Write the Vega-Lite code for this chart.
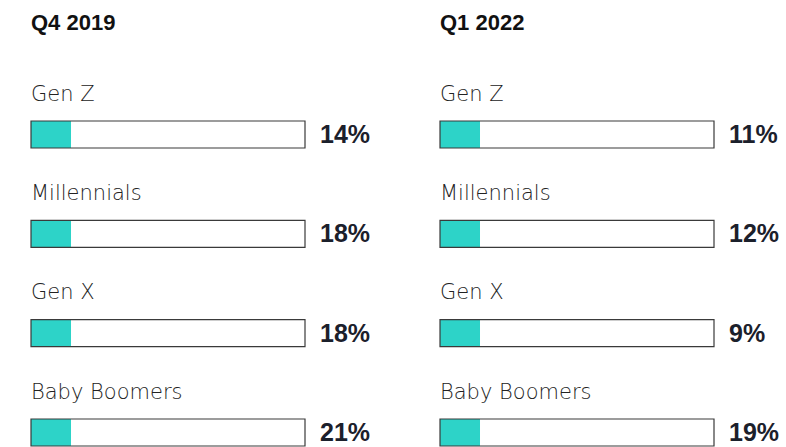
{
  "$schema": "https://vega.github.io/schema/vega-lite/v6.json",
  "padding": {"left": 30, "top": 12, "right": 0, "bottom": 0},
  "background": "white",
  "data": {"values": [
    {"period": "Q4 2019", "gen": "Gen Z", "share": 0.14},
    {"period": "Q4 2019", "gen": "Millennials", "share": 0.18},
    {"period": "Q4 2019", "gen": "Gen X", "share": 0.18},
    {"period": "Q4 2019", "gen": "Baby Boomers", "share": 0.21},
    {"period": "Q1 2022", "gen": "Gen Z", "share": 0.11},
    {"period": "Q1 2022", "gen": "Millennials", "share": 0.12},
    {"period": "Q1 2022", "gen": "Gen X", "share": 0.09},
    {"period": "Q1 2022", "gen": "Baby Boomers", "share": 0.19}
  ]},
  "facet": {
    "column": {
      "field": "period", "type": "nominal", "sort": ["Q4 2019", "Q1 2022"], "title": null,
      "header": {"labelFontSize": 22, "labelFont": "Liberation Sans", "labelFontWeight": "bold", "labelColor": "#111111", "labelAnchor": "start", "labelPadding": 48}
    }
  },
  "spacing": 68,
  "spec": {
    "width": 274,
    "height": 325,
    "encoding": {
      "y": {"field": "gen", "type": "nominal", "sort": ["Gen Z", "Millennials", "Gen X", "Baby Boomers"], "axis": null, "scale": {"paddingInner": 0.728, "paddingOuter": 0}}
    },
    "layer": [
      {"mark": {"type": "bar", "fill": "white"},
       "encoding": {"x": {"datum": 0, "type": "quantitative", "scale": {"domain": [0, 1]}, "axis": null}, "x2": {"datum": 1}}},
      {"mark": {"type": "bar", "fill": "#2DD3C8"},
       "encoding": {"x": {"datum": 0, "type": "quantitative"}, "x2": {"datum": 0.146}}},
      {"mark": {"type": "bar", "fillOpacity": 0, "stroke": "#3a3a3a", "strokeWidth": 1.2},
       "encoding": {"x": {"datum": 0, "type": "quantitative"}, "x2": {"datum": 1}}},
      {"mark": {"type": "text", "align": "left", "baseline": "alphabetic", "yOffset": -33.8, "font": "DejaVu Sans", "fontWeight": 300, "fontSize": 21, "color": "#222222"},
       "encoding": {"x": {"datum": 0, "type": "quantitative"}, "text": {"field": "gen"}}},
      {"mark": {"type": "text", "align": "left", "baseline": "alphabetic", "yOffset": 8.5, "dx": 15, "font": "Liberation Sans", "fontWeight": "bold", "fontSize": 25, "color": "#1b202b"},
       "encoding": {"x": {"datum": 1, "type": "quantitative"}, "text": {"field": "share", "format": ".0%"}}}
    ]
  },
  "config": {"view": {"stroke": null}}
}
